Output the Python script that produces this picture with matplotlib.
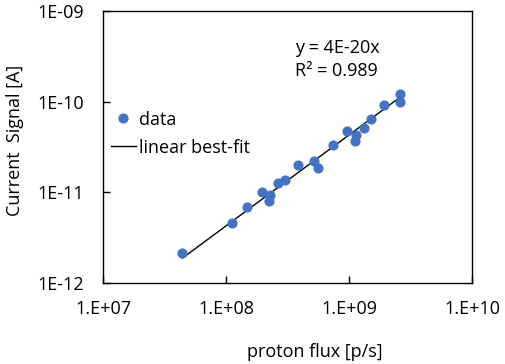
import matplotlib
matplotlib.use("Agg")
import matplotlib.pyplot as plt
import numpy as np

plt.rcParams['font.family'] = ['Open Sans', 'DejaVu Sans']

# proton flux [p/s] and current signal [A]
flux = [4.34e7, 1.11e8, 1.47e8, 1.95e8, 2.27e8, 2.23e8, 2.62e8, 3.01e8, 3.86e8, 5.19e8,
        5.56e8, 7.45e8, 9.57e8, 1.13e9, 1.12e9, 1.32e9, 1.50e9, 1.94e9, 2.60e9, 2.60e9]
current = [2.14e-12, 4.58e-12, 6.87e-12, 1.01e-11, 9.4e-12, 8.05e-12, 1.28e-11, 1.37e-11,
           2.01e-11, 2.22e-11, 1.88e-11, 3.33e-11, 4.79e-11, 4.29e-11, 3.69e-11, 5.08e-11,
           6.44e-11, 9.18e-11, 1.22e-10, 9.8e-11]
fit_coef = 4.3e-20
fit_range = [4.4e7, 2.6e9]

xticks = [1e7, 1e8, 1e9, 1e10]
xticklabels = ["1.E+07", "1.E+08", "1.E+09", "1.E+10"]
yticks = [1e-12, 1e-11, 1e-10, 1e-9]
yticklabels = ["1E-12", "1E-11", "1E-10", "1E-09"]

fig = plt.figure(figsize=(5.05, 3.64), dpi=100)
ax = fig.add_axes([0.2046, 0.2217, 0.7301, 0.7489])

ax.plot(flux, current, 'o', color='#4472C4', markersize=6.3, label='data', zorder=3)
fx = np.array(fit_range)
ax.plot(fx, fit_coef * fx, color='black', linewidth=1.0, label='linear best-fit', zorder=2)

ax.set_xscale('log')
ax.set_yscale('log')
ax.set_xlim(1e7, 1e10)
ax.set_ylim(1e-12, 1e-9)
ax.set_xticks(xticks)
ax.set_xticklabels(xticklabels)
ax.set_yticks(yticks)
ax.set_yticklabels(yticklabels)
ax.minorticks_off()
ax.tick_params(direction='in', length=5, width=1, labelsize=13)
ax.tick_params(axis='y', pad=14)
ax.tick_params(axis='x', pad=12)
for s in ax.spines.values():
    s.set_linewidth(1.0)

ax.text(0.52, 0.863, "y = 4E-20x", transform=ax.transAxes, fontsize=13, va='center')
ax.text(0.52, 0.779, "R² = 0.989", transform=ax.transAxes, fontsize=13, va='center')

ax.legend(loc='upper left', bbox_to_anchor=(0.0, 0.66), frameon=False, fontsize=13,
          handlelength=1.4, handletextpad=0.2, labelspacing=0.55, borderaxespad=0)

fig.text(0.624, 0.034, "proton flux [p/s]", ha='center', va='center', fontsize=13)
fig.text(0.03, 0.615, "Current  Signal [A]", rotation=90, va='center', ha='center', fontsize=13)

fig.savefig("out.png", dpi=100)
